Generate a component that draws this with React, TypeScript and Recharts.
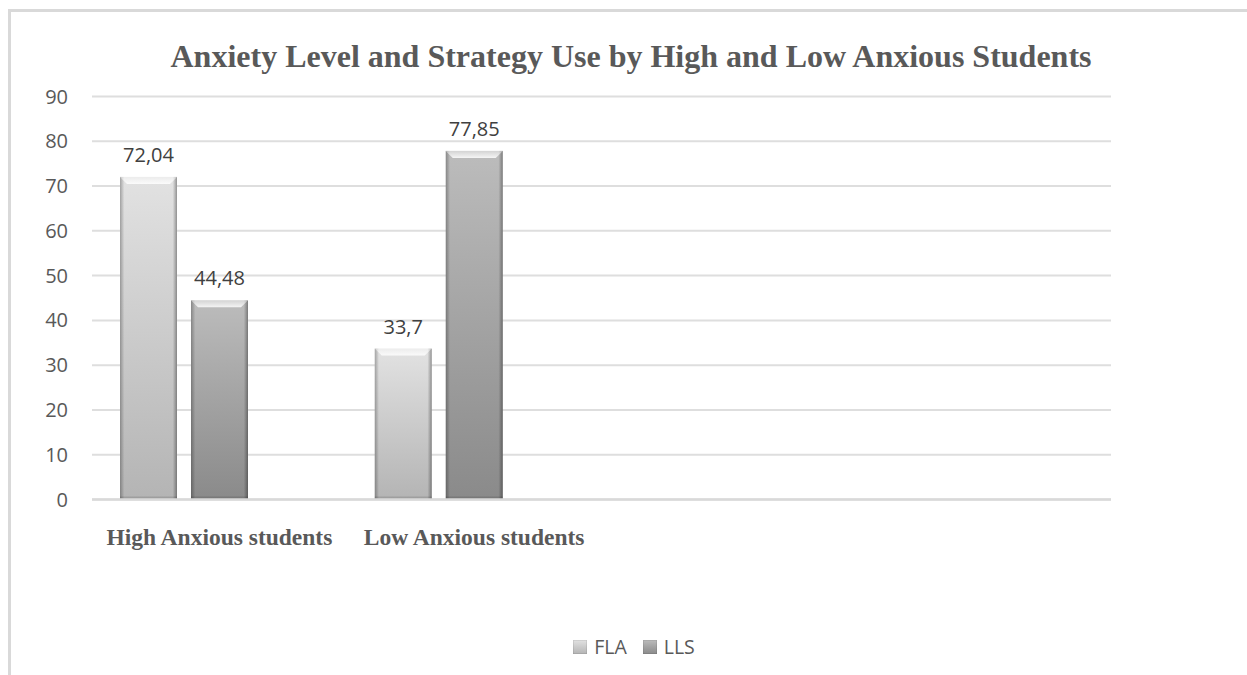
import React from "react";
import { BarChart, Bar, XAxis, YAxis, CartesianGrid, Legend, LabelList } from "recharts";

const categories = ["High Anxious students", "Low Anxious students", "", ""];
const flaValues = [72.04, 33.7, null, null];
const llsValues = [44.48, 77.85, null, null];
const blankValues = [null, null, null, null];
const yTicks = [0, 10, 20, 30, 40, 50, 60, 70, 80, 90];
const seriesNames = ["FLA", "LLS"];
const title = "Anxiety Level and Strategy Use by High and Low Anxious Students";

const data = categories.map((c, i) => ({
  name: c,
  FLA: flaValues[i],
  LLS: llsValues[i],
  blank: blankValues[i],
}));

const fmt = (v: any) => (v == null ? "" : String(v).replace(".", ","));

const BevelBar = (props: any) => {
  const { x, y, width, height, fill } = props;
  if (!height || height <= 0 || !width) return null;
  const b = 7;
  const e = 4;
  return (
    <g>
      <rect x={x} y={y} width={width} height={height} fill={fill} />
      <rect x={x} y={y} width={e} height={height} fill="url(#edgeL)" />
      <rect x={x + width - e} y={y} width={e} height={height} fill="url(#edgeR)" />
      <polygon
        points={`${x},${y} ${x + width},${y} ${x + width - b},${y + b} ${x + b},${y + b}`}
        fill="url(#bevelTop)"
      />
      <rect x={x} y={y + height - 3} width={width} height={3} fill="rgba(0,0,0,0.12)" />
    </g>
  );
};

const XTick = (props: any) => {
  const { x, y, payload } = props;
  return (
    <text
      x={x}
      y={y + 45}
      textAnchor="middle"
      fill="#595959"
      style={{ fontFamily: "'Liberation Serif', 'Times New Roman', serif", fontWeight: 700, fontSize: 23.5 }}
    >
      {payload.value}
    </text>
  );
};

const LegendContent = () => (
  <div style={{ display: "flex", justifyContent: "center", alignItems: "center", fontFamily: "'Open Sans', sans-serif", fontSize: 19.5, color: "#595959" }}>
    {seriesNames.map((n, i) => (
      <div key={n} style={{ display: "flex", alignItems: "center", marginRight: i === 0 ? 16 : 0 }}>
        <svg width={14} height={14} style={{ marginRight: 7 }}>
          <rect x={0} y={0} width={14} height={14} fill={i === 0 ? "url(#gFLA)" : "url(#gLLS)"} />
          <rect x={0} y={0} width={14} height={14} fill="none" stroke="rgba(0,0,0,0.15)" strokeWidth={1} />
        </svg>
        <span>{n}</span>
      </div>
    ))}
  </div>
);

export default function App() {
  return (
    <div style={{ position: "absolute", left: 0, top: 0, width: 1247, height: 675, background: "#fff", overflow: "hidden" }}>
      <div
        style={{
          position: "absolute",
          left: 8,
          top: 9,
          width: 1245,
          height: 670,
          borderTop: "3px solid #d9d9d9",
          borderLeft: "3px solid #d9d9d9",
        }}
      />
      <svg width={1247} height={80} style={{ position: "absolute", left: 0, top: 0 }}>
        <text
          x={631}
          y={67}
          textAnchor="middle"
          fill="#595959"
          style={{ fontFamily: "'Liberation Serif', 'Times New Roman', serif", fontWeight: 700, fontSize: 32 }}
        >
          {title}
        </text>
      </svg>
      <div style={{ position: "absolute", left: 0, top: 0 }}>
        <BarChart
          width={1247}
          height={675}
          data={data}
          margin={{ top: 96.5, right: 136, left: 32, bottom: 115.5 }}
          barSize={57}
          barGap={14}
        >
          <defs>
            <linearGradient id="gFLA" x1="0" y1="0" x2="0" y2="1">
              <stop offset="0%" stopColor="#e2e2e2" />
              <stop offset="100%" stopColor="#b4b4b4" />
            </linearGradient>
            <linearGradient id="gLLS" x1="0" y1="0" x2="0" y2="1">
              <stop offset="0%" stopColor="#bcbcbc" />
              <stop offset="100%" stopColor="#8a8a8a" />
            </linearGradient>
            <linearGradient id="edgeL" x1="0" y1="0" x2="1" y2="0">
              <stop offset="0%" stopColor="rgba(0,0,0,0.28)" />
              <stop offset="100%" stopColor="rgba(0,0,0,0.02)" />
            </linearGradient>
            <linearGradient id="edgeR" x1="0" y1="0" x2="1" y2="0">
              <stop offset="0%" stopColor="rgba(0,0,0,0.02)" />
              <stop offset="100%" stopColor="rgba(0,0,0,0.35)" />
            </linearGradient>
            <linearGradient id="bevelTop" x1="0" y1="0" x2="0" y2="1">
              <stop offset="0%" stopColor="rgba(255,255,255,0.35)" />
              <stop offset="100%" stopColor="rgba(255,255,255,0.85)" />
            </linearGradient>
          </defs>
          <CartesianGrid vertical={false} stroke="#dedede" strokeWidth={2} />
          <XAxis
            dataKey="name"
            interval={0}
            height={60}
            tickLine={false}
            tickSize={0}
            tickMargin={0}
            axisLine={{ stroke: "#d9d9d9", strokeWidth: 2.5 }}
            tick={<XTick />}
          />
          <YAxis
            domain={[0, 90]}
            ticks={yTicks}
            width={60}
            axisLine={false}
            tickLine={false}
            tickSize={0}
            tickMargin={24}
            tick={{ fill: "#595959", fontFamily: "'Open Sans', sans-serif", fontSize: 20 }}
          />
          <Legend
            verticalAlign="middle"
            align="center"
            layout="horizontal"
            content={<LegendContent />}
            wrapperStyle={{ top: 633, left: 0, width: 1268 }}
          />
          <Bar dataKey="FLA" name="FLA" fill="url(#gFLA)" isAnimationActive={false} shape={(p: any) => <BevelBar {...p} />}>
            <LabelList dataKey="FLA" position="top" offset={15} formatter={fmt} fill="#404040" style={{ fontFamily: "'Open Sans', sans-serif", fontSize: 20 }} />
          </Bar>
          <Bar dataKey="LLS" name="LLS" fill="url(#gLLS)" isAnimationActive={false} shape={(p: any) => <BevelBar {...p} />}>
            <LabelList dataKey="LLS" position="top" offset={15} formatter={fmt} fill="#404040" style={{ fontFamily: "'Open Sans', sans-serif", fontSize: 20 }} />
          </Bar>
          <Bar dataKey="blank" name="blank" fill="#ffffff" legendType="none" isAnimationActive={false} />
        </BarChart>
      </div>
    </div>
  );
}
